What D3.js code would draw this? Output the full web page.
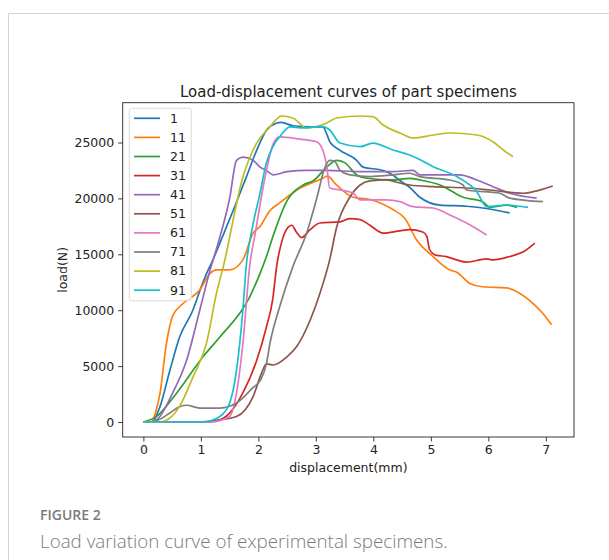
<!DOCTYPE html>
<html>
<head>
<meta charset="utf-8">
<script src="https://cdn.jsdelivr.net/npm/d3@7.9.0/dist/d3.min.js"></script>
<style>
  body { margin: 0; background: #fff; }
  svg { display: block; }
  .mpl { font-family: "DejaVu Sans", sans-serif; fill: #222; }
</style>
</head>
<body>
<svg id="chart" width="609" height="560"></svg>
<script>
// specimen labels and colours (matplotlib tab10)
const specimens = ["1", "11", "21", "31", "41", "51", "61", "71", "81", "91"];
const colors = ["#1f77b4", "#ff7f0e", "#2ca02c", "#d62728", "#9467bd",
  "#8c564b", "#e377c2", "#7f7f7f", "#bcbd22", "#17becf"];
const xTicks = [0, 1, 2, 3, 4, 5, 6, 7];
const yTicks = [0, 5000, 10000, 15000, 20000, 25000];

// [displacement (mm), load (N)]
const s1 = [[0,0],[0.14,0],[0.29,1400],[0.46,4600],[0.63,7600],[0.86,10000],[1.0,12000],[1.1,13300],[1.2,14400],[1.33,16000],[1.56,18900],[1.79,21900],[1.97,24300],[2.14,26100],[2.3,26700],[2.4,26800],[2.6,26500],[2.9,26400],[3.12,26400],[3.25,25000],[3.42,24300],[3.71,23400],[3.82,22800],[4.17,22500],[4.34,22100],[4.46,21600],[4.63,21000],[4.81,20100],[5.16,19400],[5.62,19300],[5.97,19100],[6.37,18700]];
const s11 = [[0,0],[0.14,0],[0.22,1000],[0.29,2600],[0.4,7000],[0.51,9500],[0.69,10600],[0.98,11800],[1.16,13300],[1.27,13600],[1.5,13600],[1.73,14500],[1.91,16900],[2.03,17500],[2.2,18900],[2.37,19600],[2.72,20900],[3.12,21800],[3.2,22000],[3.36,21200],[3.65,20100],[3.94,19900],[4.34,19000],[4.55,18200],[4.75,16300],[5.04,14800],[5.33,13600],[5.45,13400],[5.68,12400],[5.9,12100],[6.32,12000],[6.55,11500],[6.78,10600],[6.95,9700],[7.07,8900],[7.1,8700]];
const s21 = [[0,0],[0.23,500],[0.58,2600],[1.03,5800],[1.33,7600],[1.85,11200],[2.03,13300],[2.14,14800],[2.26,16700],[2.5,19800],[2.78,21200],[2.96,21600],[3.19,22800],[3.36,23400],[3.5,23200],[3.71,22100],[3.89,21800],[4.34,21650],[4.63,21800],[4.81,21650],[5.16,21200],[5.56,20100],[5.9,19700],[6.03,19200],[6.32,19400],[6.5,19200]];
const s31 = [[0,0],[1.1,0],[1.27,100],[1.5,800],[1.73,2600],[1.97,5500],[2.14,8500],[2.25,11000],[2.32,14000],[2.4,16000],[2.5,17300],[2.58,17600],[2.66,17000],[2.75,16500],[2.9,17200],[3.07,17800],[3.42,17900],[3.59,18200],[3.77,18100],[3.94,17600],[4.17,16900],[4.46,17100],[4.63,17200],[4.86,17000],[4.93,16600],[4.98,15400],[5.1,14900],[5.27,14800],[5.45,14500],[5.62,14300],[5.97,14600],[6.08,14500],[6.37,14800],[6.6,15200],[6.81,16000]];
const s41 = [[0,0],[0.1,0],[0.23,200],[0.51,2600],[0.75,5500],[0.98,10000],[1.16,13600],[1.3,16000],[1.5,20000],[1.62,23400],[1.73,23700],[1.91,23400],[2.03,22800],[2.14,22500],[2.26,22100],[2.5,22400],[2.84,22500],[3.19,22500],[3.77,22400],[4.34,22400],[4.69,22500],[4.81,22100],[5.5,22100],[5.8,21650],[6.08,21050],[6.37,20460],[6.84,20030]];
const s51 = [[0,0],[0.92,0],[1.33,200],[1.62,500],[1.91,2300],[2.05,4300],[2.14,5200],[2.26,5100],[2.49,5800],[2.66,6700],[2.9,9100],[3.07,11500],[3.24,14500],[3.36,17400],[3.59,20100],[3.77,21200],[3.94,21560],[4.23,21650],[4.46,21380],[4.63,21200],[5.04,21050],[5.62,20930],[6.03,20750],[6.6,20460],[6.78,20600],[7.12,21110]];
const s61 = [[0,0],[1.16,0],[1.5,500],[1.62,2600],[1.73,7000],[1.85,14000],[1.95,17000],[2.03,19500],[2.14,22500],[2.26,24900],[2.37,25500],[2.72,25300],[3.01,25070],[3.12,24330],[3.19,22840],[3.24,20930],[3.42,20750],[3.65,20460],[3.77,19860],[4.23,19860],[4.46,19710],[4.69,19260],[5.04,19140],[5.33,18520],[5.62,17800],[5.97,16730]];
const s71 = [[0,0],[0.14,0],[0.46,800],[0.6,1300],[0.75,1500],[0.98,1250],[1.33,1250],[1.62,1700],[1.91,3100],[2.03,3700],[2.14,5200],[2.2,7000],[2.37,10300],[2.6,13900],[2.84,16900],[3.01,19900],[3.16,22800],[3.24,23400],[3.33,23300],[3.42,22500],[3.59,22100],[3.94,21950],[4.34,22100],[4.63,22250],[4.81,21950],[5.33,21650],[5.56,21200],[5.62,20750],[6.2,20460],[6.37,20030],[6.95,19710]];
const s81 = [[0,0],[0.29,0],[0.63,1400],[0.86,4000],[1.1,7100],[1.27,11500],[1.39,13900],[1.73,21900],[1.97,24950],[2.2,26400],[2.3,27000],[2.4,27370],[2.6,27190],[2.84,26300],[3.01,26420],[3.19,26750],[3.36,27190],[3.77,27370],[3.99,27310],[4.17,26570],[4.46,25850],[4.69,25400],[5.04,25670],[5.33,25850],[5.8,25670],[6.08,25070],[6.26,24330],[6.43,23730]];
const s91 = [[0,0],[1.03,0],[1.33,500],[1.5,1700],[1.62,4650],[1.73,10000],[1.79,14000],[1.9,17500],[2.03,20500],[2.14,23200],[2.26,24700],[2.37,25500],[2.55,26390],[2.78,26300],[2.95,26390],[3.12,26420],[3.24,26120],[3.42,24950],[3.77,24630],[3.99,24950],[4.34,24330],[4.63,23880],[4.75,23610],[5.04,22840],[5.45,21950],[5.8,20600],[5.97,19260],[6.32,19410],[6.5,19320],[6.69,19200]];

const allSeries = [s1, s11, s21, s31, s41, s51, s61, s71, s81, s91];

const svg = d3.select("#chart");
const area = { left: 122.7, right: 574, top: 102.7, bottom: 437 };

// card outline of the figure panel
svg.append("line").attr("x1", 8.5).attr("x2", 609).attr("y1", 13.5).attr("y2", 13.5)
  .attr("stroke", "#d4d4d4");
svg.append("line").attr("x1", 8.5).attr("x2", 8.5).attr("y1", 13.5).attr("y2", 560)
  .attr("stroke", "#d4d4d4");

const xScale = d3.scaleLinear().domain([-0.36, 7.49]).range([area.left, area.right]);
const yScale = d3.scaleLinear().domain([-1340, 28560]).range([area.bottom, area.top]);

const xAxis = svg.append("g")
  .attr("class", "mpl")
  .attr("transform", `translate(0,${area.bottom})`)
  .call(d3.axisBottom(xScale).tickValues(xTicks).tickSize(4.5).tickPadding(4).tickFormat(d3.format("d")));
const yAxis = svg.append("g")
  .attr("class", "mpl")
  .attr("transform", `translate(${area.left},0)`)
  .call(d3.axisLeft(yScale).tickValues(yTicks).tickSize(4.5).tickPadding(4).tickFormat(d3.format("d")));

[xAxis, yAxis].forEach((ax) => {
  ax.select(".domain").remove();
  ax.selectAll("line").attr("stroke", "#222").attr("stroke-width", 0.9);
  ax.selectAll("text").attr("font-family", "DejaVu Sans").attr("font-size", 12.5).attr("fill", "#222");
});

const line = d3.line()
  .x((d) => xScale(d[0]))
  .y((d) => yScale(d[1]))
  .curve(d3.curveMonotoneX);

svg.append("clipPath").attr("id", "plotclip").append("rect")
  .attr("x", area.left).attr("y", area.top)
  .attr("width", area.right - area.left).attr("height", area.bottom - area.top);

svg.append("g")
  .attr("clip-path", "url(#plotclip)")
  .selectAll("path")
  .data(allSeries)
  .join("path")
  .attr("d", line)
  .attr("fill", "none")
  .attr("stroke", (d, i) => colors[i])
  .attr("stroke-width", 1.7)
  .attr("stroke-linejoin", "round");

// frame
svg.append("rect")
  .attr("x", area.left).attr("y", area.top)
  .attr("width", area.right - area.left).attr("height", area.bottom - area.top)
  .attr("fill", "none").attr("stroke", "#222").attr("stroke-width", 0.9);

// legend
const legend = svg.append("g").attr("class", "legend");
legend.append("rect")
  .attr("x", 129.3).attr("y", 108.3).attr("width", 62).attr("height", 192.5)
  .attr("rx", 2.5)
  .attr("fill", "#fff").attr("fill-opacity", 0.8)
  .attr("stroke", "#d6d6d6").attr("stroke-width", 0.9);

const entries = legend.selectAll("g.entry")
  .data(specimens)
  .join("g")
  .attr("class", "entry")
  .attr("transform", (d, i) => `translate(0,${118.3 + i * 19.1})`);
entries.append("line")
  .attr("x1", 134).attr("x2", 160).attr("y1", 0).attr("y2", 0)
  .attr("stroke", (d, i) => colors[i]).attr("stroke-width", 1.7);
entries.append("text")
  .attr("class", "mpl")
  .attr("x", 170).attr("y", 0).attr("dy", "0.35em")
  .attr("font-size", 12.5)
  .text((d) => d);

// titles
svg.append("text").attr("class", "mpl")
  .attr("x", (area.left + area.right) / 2).attr("y", 97)
  .attr("text-anchor", "middle").attr("font-size", 15)
  .text("Load-displacement curves of part specimens");

svg.append("text").attr("class", "mpl")
  .attr("x", (area.left + area.right) / 2).attr("y", 472)
  .attr("text-anchor", "middle").attr("font-size", 12.5)
  .text("displacement(mm)");

svg.append("text").attr("class", "mpl")
  .attr("transform", `translate(67,${(area.top + area.bottom) / 2}) rotate(-90)`)
  .attr("text-anchor", "middle").attr("font-size", 12.5)
  .text("load(N)");

// caption
svg.append("text")
  .attr("x", 40).attr("y", 520)
  .attr("font-family", "Open Sans").attr("font-size", 14).attr("font-weight", 600)
  .attr("fill", "#7a7a7a")
  .text("FIGURE 2");
svg.append("text")
  .attr("x", 40).attr("y", 548)
  .attr("font-family", "Open Sans").attr("font-size", 18.8).attr("font-weight", 300)
  .attr("fill", "#7a7a7a")
  .text("Load variation curve of experimental specimens.");
</script>
</body>
</html>
